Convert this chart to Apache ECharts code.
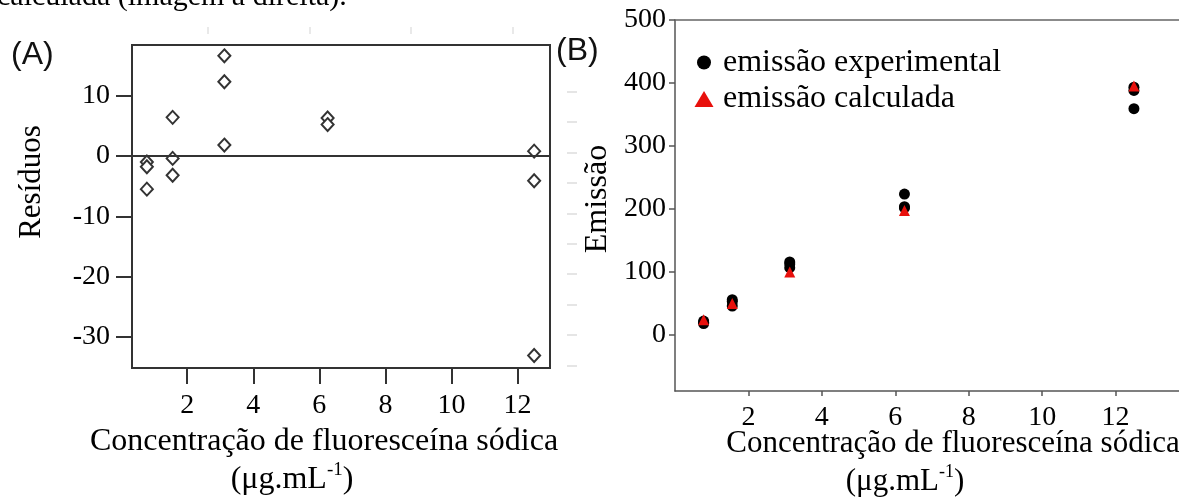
<!DOCTYPE html>
<html>
<head>
<meta charset="utf-8">
<script src="https://cdn.jsdelivr.net/npm/echarts@6/dist/echarts.min.js"></script>
<style>html,body{margin:0;padding:0;background:#fff}#c{width:1179px;height:500px}</style>
</head>
<body>
<div id="c"></div>
<script>
// ---- data ----
const residX = [0.78, 0.78, 0.78, 1.56, 1.56, 1.56, 3.125, 3.125, 3.125, 6.25, 6.25, 12.5, 12.5, 12.5];
const residY = [-1.0, -1.8, -5.5, 6.4, -0.4, -3.2, 16.6, 12.3, 1.8, 6.3, 5.2, 0.8, -4.1, -33.1];
const expX = [0.78, 0.78, 0.78, 1.56, 1.56, 1.56, 3.125, 3.125, 3.125, 6.25, 6.25, 6.25, 12.5, 12.5, 12.5];
const expY = [17, 19, 21, 55, 52, 45, 115, 112, 106, 223, 203, 201, 393, 388, 359];
const calcX = [0.78, 1.56, 3.125, 6.25, 12.5];
const calcY = [23, 49, 99, 197, 395];
const xTicks = [2, 4, 6, 8, 10, 12];
const yTicksA = [-30, -20, -10, 0, 10];
const yTicksB = [0, 100, 200, 300, 400, 500];
const faintTicksRight = [10.6, 5.6, 0.6, -4.5, -9.5, -14.6, -19.6, -24.7, -29.7, -34.8];
const faintTicksTop = [2.63, 5.71, 8.77, 11.86];

const serif = '"Liberation Serif", "Times New Roman", serif';
const sans = '"Liberation Sans", Arial, sans-serif';
const pairs = (xs, ys) => xs.map((x, i) => [x, ys[i]]);

const chart = echarts.init(document.getElementById('c'), null, {renderer: 'canvas'});
const axisCol = '#333';

chart.setOption({
  animation: false,
  backgroundColor: '#fff',
  graphic: [
    {type: 'text', x: -3, y: -3, style: {text: 'calculada (imagem à direita).', font: '30px ' + serif, fill: '#000', verticalAlign: 'middle'}},
    {type: 'text', x: 11, y: 55, style: {text: '(A)', font: '32px ' + sans, fill: '#111', verticalAlign: 'middle'}},
    {type: 'text', x: 556, y: 51, style: {text: '(B)', font: '32px ' + sans, fill: '#111', verticalAlign: 'middle'}}
  ],
  grid: [
    {left: 132, top: 45, width: 418, height: 323, show: true, borderColor: axisCol, borderWidth: 2, backgroundColor: 'transparent', containLabel: false, outerBoundsMode: 'none'},
    {left: 675, top: 20, width: 514, height: 371, containLabel: false, outerBoundsMode: 'none'}
  ],
  legend: [
    {data: ['emissão experimental'], left: 697, top: 46.5, padding: 0, icon: 'circle', itemWidth: 14, itemHeight: 14,
      itemStyle: {opacity: 1},
      textStyle: {fontFamily: serif, fontSize: 32, color: '#000', padding: [0, 0, 12, 7]}},
    {data: ['emissão calculada'], left: 694.5, top: 83, padding: 0, icon: 'triangle', itemWidth: 19, itemHeight: 16,
      itemStyle: {opacity: 1},
      textStyle: {fontFamily: serif, fontSize: 32, color: '#000', padding: [0, 0, 13, 4.5]}}
  ],
  xAxis: [
    {gridIndex: 0, type: 'value', min: 0.33, max: 12.98, position: 'bottom',
      axisLine: {show: true, onZero: false, lineStyle: {color: axisCol, width: 2}},
      axisTick: {show: true, length: 16, lineStyle: {color: axisCol, width: 2}, customValues: xTicks},
      axisLabel: {margin: 24, fontFamily: serif, fontSize: 28, color: '#000', customValues: xTicks},
      splitLine: {show: false},
      name: '{t|Concentração de fluoresceína sódica}\n{u|(μg.mL}{s|-1}{u|)}{g|}',
      nameLocation: 'middle', nameGap: 55, nameMoveOverlap: false,
      nameTextStyle: {padding: [0, 34, 0, 0], rich: {
        t: {fontFamily: serif, fontSize: 32, lineHeight: 38, color: '#000'},
        u: {fontFamily: serif, fontSize: 32, lineHeight: 38, color: '#000'},
        s: {fontFamily: serif, fontSize: 19, lineHeight: 22, verticalAlign: 'top', color: '#000'},
        g: {width: 64, lineHeight: 38}
      }}
    },
    {gridIndex: 0, type: 'value', min: 0.33, max: 12.98, position: 'top', offset: 11,
      axisLine: {show: false, onZero: false},
      axisTick: {show: true, length: 7, lineStyle: {color: '#e2e2e2', width: 1.5}, customValues: faintTicksTop},
      axisLabel: {show: false}, splitLine: {show: false}
    },
    {gridIndex: 1, type: 'value', min: 0, max: 14, position: 'bottom',
      axisLine: {show: true, onZero: false, lineStyle: {color: '#555', width: 1.5}},
      axisTick: {show: true, length: 5, lineStyle: {color: '#555', width: 1.5}, customValues: xTicks},
      axisLabel: {margin: 13, fontFamily: serif, fontSize: 28, color: '#000', customValues: xTicks},
      splitLine: {show: false},
      name: '{t|Concentração de fluoresceína sódica}\n{u|(μg.mL}{s|-1}{u|)}{g|}',
      nameLocation: 'middle', nameGap: 34, nameMoveOverlap: false,
      nameTextStyle: {padding: [0, 0, 0, 42], rich: {
        t: {fontFamily: serif, fontSize: 31, lineHeight: 38, color: '#000'},
        u: {fontFamily: serif, fontSize: 31, lineHeight: 38, color: '#000'},
        s: {fontFamily: serif, fontSize: 18, lineHeight: 22, verticalAlign: 'top', color: '#000'},
        g: {width: 96, lineHeight: 38}
      }}
    },
    {gridIndex: 1, type: 'value', min: 0, max: 14, position: 'top',
      axisLine: {show: true, onZero: false, lineStyle: {color: '#666', width: 1.5}},
      axisTick: {show: false}, axisLabel: {show: false}, splitLine: {show: false}
    }
  ],
  yAxis: [
    {gridIndex: 0, type: 'value', min: -35.16, max: 18.4, position: 'left',
      axisLine: {show: true, onZero: false, lineStyle: {color: axisCol, width: 2}},
      axisTick: {show: true, length: 16, lineStyle: {color: axisCol, width: 2}, customValues: yTicksA},
      axisLabel: {margin: 22, fontFamily: serif, fontSize: 28, color: '#000', customValues: yTicksA},
      splitLine: {show: false},
      name: 'Resíduos', nameLocation: 'middle', nameGap: 85, nameMoveOverlap: false,
      nameTextStyle: {fontFamily: serif, fontSize: 31, color: '#000', padding: [0, 0, 0, 49]}
    },
    {gridIndex: 0, type: 'value', min: -35.16, max: 18.4, position: 'right', offset: 17,
      axisLine: {show: false, onZero: false},
      axisTick: {show: true, length: 10, lineStyle: {color: '#ddd', width: 1.5}, customValues: faintTicksRight},
      axisLabel: {show: false}, splitLine: {show: false}
    },
    {gridIndex: 1, type: 'value', min: -90.2, max: 500, position: 'left',
      axisLine: {show: true, onZero: false, lineStyle: {color: '#555', width: 1.5}},
      axisTick: {show: true, length: 6, lineStyle: {color: '#555', width: 1.5}, customValues: yTicksB},
      axisLabel: {margin: 9, fontFamily: serif, fontSize: 28, color: '#000', customValues: yTicksB},
      splitLine: {show: false},
      name: 'Emissão', nameLocation: 'middle', nameGap: 61, nameMoveOverlap: false,
      nameTextStyle: {fontFamily: serif, fontSize: 32, color: '#000', padding: [0, 0, 0, 13]}
    }
  ],
  series: [
    {type: 'scatter', name: 'Resíduos', xAxisIndex: 0, yAxisIndex: 0, data: pairs(residX, residY),
      symbol: 'diamond', symbolSize: [12, 13],
      itemStyle: {color: '#fff', borderColor: '#333', borderWidth: 2, opacity: 1},
      markLine: {silent: true, symbol: 'none', label: {show: false},
        lineStyle: {color: axisCol, width: 2, type: 'solid'}, data: [{yAxis: 0}]},
      z: 3
    },
    {type: 'scatter', name: 'emissão experimental', xAxisIndex: 2, yAxisIndex: 2, data: pairs(expX, expY),
      symbol: 'circle', symbolSize: 11, itemStyle: {color: '#000', opacity: 1}, z: 3},
    {type: 'scatter', name: 'emissão calculada', xAxisIndex: 2, yAxisIndex: 2, data: pairs(calcX, calcY),
      symbol: 'triangle', symbolSize: 11, itemStyle: {color: '#e8100c', opacity: 1}, z: 4}
  ]
});
</script>
</body>
</html>
